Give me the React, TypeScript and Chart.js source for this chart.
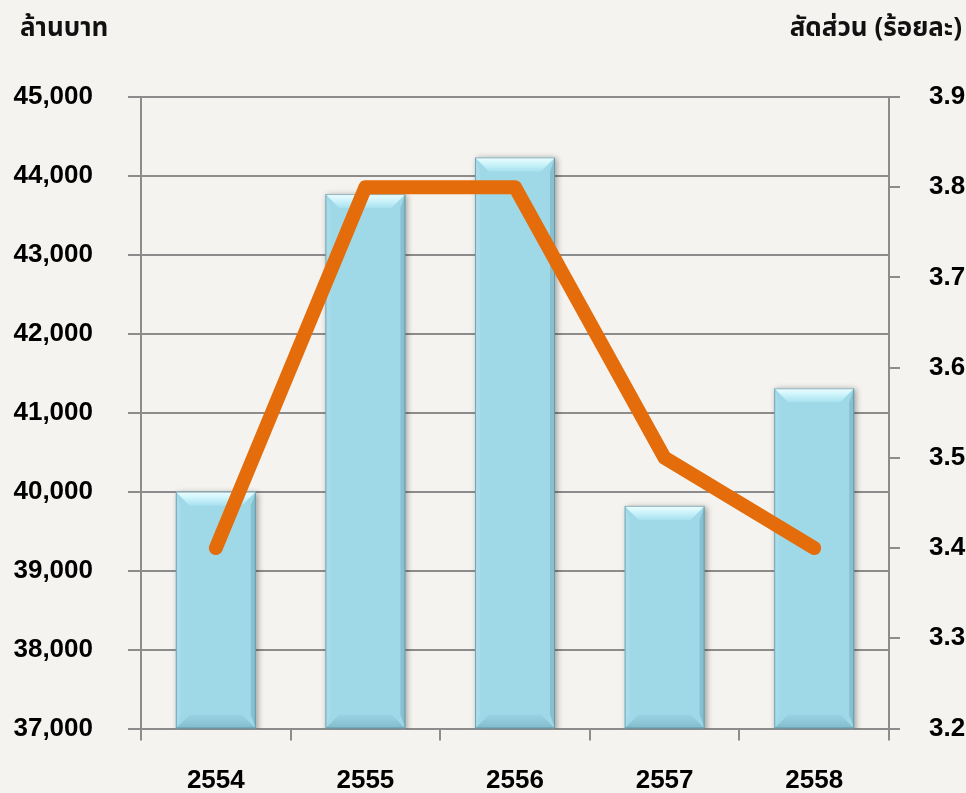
import React, { useEffect, useRef } from "react";
import { Chart, registerables } from "chart.js";

Chart.register(...registerables);

const years = ["2554", "2555", "2556", "2557", "2558"];
const amountMillionBaht = [40000, 43770, 44235, 39820, 41310];
const sharePercent = [3.4, 3.8, 3.8, 3.5, 3.4];
const leftAxisTitle = "ล้านบาท";
const rightAxisTitle = "สัดส่วน (ร้อยละ)";

const BG = "#F4F3EF";
const GRID = "#8C8C8C";
const FONT = "'Liberation Sans', Arial, sans-serif";
const THAI_FONT = "Tahoma, 'Noto Sans Thai', 'Liberation Sans', sans-serif";

const bevelPlugin = {
  id: "bevelBars",
  beforeDatasetDraw(chart: any, args: any) {
    if (args.index !== 0) return;
    const ctx = chart.ctx;
    ctx.save();
    ctx.shadowColor = "rgba(0,0,0,0.35)";
    ctx.shadowBlur = 6;
    ctx.shadowOffsetX = 2;
    ctx.shadowOffsetY = 1;
  },
  afterDatasetDraw(chart: any, args: any) {
    if (args.index !== 0) return;
    const ctx = chart.ctx;
    ctx.restore();
    const meta = chart.getDatasetMeta(0);
    const area = chart.chartArea;
    const b = 14;
    meta.data.forEach((el: any) => {
      const { x, y, base, width } = el.getProps(["x", "y", "base", "width"], true);
      const l = x - width / 2;
      const r = x + width / 2;
      const t = y;
      const bt = Math.min(base, area.bottom);
      ctx.save();
      // top bevel
      const g = ctx.createLinearGradient(0, t, 0, t + b);
      g.addColorStop(0, "#F0FEFF");
      g.addColorStop(0.45, "#CDF4FB");
      g.addColorStop(1, "#A8E1EF");
      ctx.fillStyle = g;
      ctx.beginPath();
      ctx.moveTo(l, t);
      ctx.lineTo(r, t);
      ctx.lineTo(r - b, t + b);
      ctx.lineTo(l + b, t + b);
      ctx.closePath();
      ctx.fill();
      // left bevel
      ctx.fillStyle = "rgba(255,255,255,0.10)";
      ctx.beginPath();
      ctx.moveTo(l, t);
      ctx.lineTo(l + 5, t + b);
      ctx.lineTo(l + 5, bt - b);
      ctx.lineTo(l, bt);
      ctx.closePath();
      ctx.fill();
      // right bevel
      ctx.fillStyle = "rgba(30,80,100,0.18)";
      ctx.beginPath();
      ctx.moveTo(r, t);
      ctx.lineTo(r - 5, t + b);
      ctx.lineTo(r - 5, bt - b);
      ctx.lineTo(r, bt);
      ctx.closePath();
      ctx.fill();
      // bottom bevel
      const g2 = ctx.createLinearGradient(0, bt - b, 0, bt);
      g2.addColorStop(0, "rgba(30,80,100,0.04)");
      g2.addColorStop(1, "rgba(30,80,100,0.22)");
      ctx.fillStyle = g2;
      ctx.beginPath();
      ctx.moveTo(l, bt);
      ctx.lineTo(l + b, bt - b);
      ctx.lineTo(r - b, bt - b);
      ctx.lineTo(r, bt);
      ctx.closePath();
      ctx.fill();
      // outline
      ctx.strokeStyle = "rgba(70,120,135,0.55)";
      ctx.lineWidth = 1;
      ctx.strokeRect(l + 0.5, t + 0.5, width - 1, bt - t - 1);
      ctx.restore();
    });
  },
};

export default function App() {
  const ref = useRef<HTMLCanvasElement | null>(null);

  useEffect(() => {
    document.body.style.margin = "0";
    document.body.style.background = BG;
    if (!ref.current) return;
    const chart = new Chart(ref.current, {
      type: "bar",
      data: {
        labels: years,
        datasets: [
          {
            type: "bar",
            label: "ล้านบาท",
            data: amountMillionBaht,
            backgroundColor: "#9FD9E8",
            barPercentage: 0.535,
            categoryPercentage: 1,
            yAxisID: "y",
            order: 1,
          },
          {
            type: "line",
            label: "ร้อยละ",
            data: sharePercent,
            borderColor: "#E46C0A",
            backgroundColor: "#E46C0A",
            borderWidth: 14,
            borderCapStyle: "round",
            borderJoinStyle: "round",
            pointRadius: 0,
            tension: 0,
            yAxisID: "y1",
            order: 0,
          },
        ],
      },
      options: {
        animation: false,
        responsive: false,
        maintainAspectRatio: false,
        layout: { padding: { top: 97, right: 0, bottom: 0, left: 0 } },
        plugins: { legend: { display: false }, tooltip: { enabled: false } },
        scales: {
          x: {
            offset: true,
            grid: {
              offset: true,
              drawOnChartArea: false,
              drawTicks: true,
              tickLength: 12,
              color: GRID,
              lineWidth: 2,
            },
            border: { display: true, color: GRID, width: 2 },
            ticks: {
              color: "#000",
              font: { family: FONT, size: 26, weight: "bold" },
              padding: 25,
            },
            afterFit: (s: any) => {
              s.height = 64.5;
            },
          },
          y: {
            position: "left",
            min: 37000,
            max: 45000,
            grid: {
              color: GRID,
              lineWidth: 2,
              tickLength: 13,
              drawTicks: true,
            },
            border: { display: true, color: GRID, width: 2 },
            ticks: {
              stepSize: 1000,
              color: "#000",
              font: { family: FONT, size: 26, weight: "bold" },
              padding: 35,
              callback: (v: any) => Number(v).toLocaleString("en-US"),
            },
            afterFit: (s: any) => {
              s.width = 141;
            },
          },
          y1: {
            position: "right",
            min: 3.2,
            max: 3.9,
            grid: {
              drawOnChartArea: false,
              color: GRID,
              lineWidth: 2,
              tickLength: 11,
              drawTicks: true,
            },
            border: { display: true, color: GRID, width: 2 },
            ticks: {
              stepSize: 0.1,
              color: "#000",
              font: { family: FONT, size: 26, weight: "bold" },
              padding: 29,
              callback: (v: any) => Number(v).toFixed(1),
            },
            afterFit: (s: any) => {
              s.width = 77;
            },
          },
        },
      },
      plugins: [bevelPlugin],
    });
    return () => chart.destroy();
  }, []);

  return (
    <div
      style={{
        position: "fixed",
        left: 0,
        top: 0,
        width: 966,
        height: 793,
        background: BG,
      }}
    >
      <canvas ref={ref} width={966} height={793} style={{ display: "block" }} />
      <div
        style={{
          position: "absolute",
          left: 20,
          top: 8,
          fontFamily: THAI_FONT,
          fontWeight: "bold",
          fontSize: 26,
          color: "#111",
          whiteSpace: "nowrap",
        }}
      >
        {leftAxisTitle}
      </div>
      <div
        style={{
          position: "absolute",
          right: 4,
          top: 8,
          fontFamily: THAI_FONT,
          fontWeight: "bold",
          fontSize: 26,
          color: "#111",
          whiteSpace: "nowrap",
        }}
      >
        {rightAxisTitle}
      </div>
    </div>
  );
}
